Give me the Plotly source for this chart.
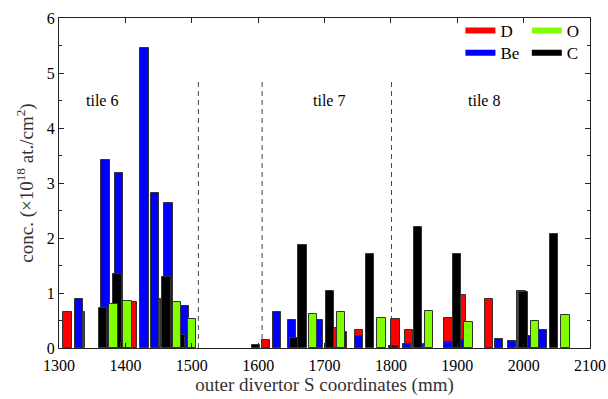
import plotly.graph_objects as go

# ---- data (S coordinate in mm, concentration in 1e18 at./cm^2) ----
d_s  = [1313, 1333, 1412, 1448, 1612, 1712, 1752, 1807, 1827, 1887, 1907, 1948, 1997]
d_v  = [0.66, 0.65, 0.83, 0.90, 0.15, 0.36, 0.33, 0.53, 0.33, 0.545, 0.96, 0.90, 1.04]

be_s = [1330, 1370, 1390, 1429, 1445, 1465, 1489, 1628, 1651, 1692, 1728, 1752,
        1824, 1844, 1887, 1905, 1963, 1983, 2005, 2029]
be_v = [0.90, 3.42, 3.19, 5.45, 2.82, 2.64, 0.77, 0.65, 0.51, 0.51, 0.30, 0.22,
        0.07, 0.08, 0.11, 0.15, 0.17, 0.13, 0.22, 0.33]

c_s  = [1366, 1388, 1400, 1462, 1483, 1597, 1655, 1667, 1708, 1769, 1804, 1841, 1900, 2000, 2046]
c_v  = [0.72, 1.34, 0.10, 1.30, 0.24, 0.06, 0.18, 1.88, 1.03, 1.71, 0.04, 2.20, 1.71, 1.02, 2.07]

o_s  = [1382, 1403, 1478, 1500, 1683, 1725, 1786, 1857, 1917, 2017, 2063]
o_v  = [0.80, 0.86, 0.84, 0.53, 0.62, 0.65, 0.545, 0.665, 0.47, 0.50, 0.605]

tile_bounds = [1510, 1606, 1801]
tile_bound_top = 4.88
tile_names = ["tile 6", "tile 7", "tile 8"]
tile_label_s = [1365, 1707, 1940]
tile_label_y = 4.5

FONT = "Liberation Serif"
BAR_W = 12.5
series = [
    ("D", d_s, d_v, "#ff0000"),
    ("Be", be_s, be_v, "#0000ff"),
    ("C", c_s, c_v, "#000000"),
    ("O", o_s, o_v, "#7fff00"),
]

fig = go.Figure()
for name, xs, ys, col in series:
    fig.add_trace(go.Bar(
        x=xs, y=ys, width=BAR_W, name=name, showlegend=False,
        marker=dict(color=col, line=dict(color="#333333", width=1)),
    ))

# legend entries (line samples) laid out as 2x2 grid
legend_items = [("D", "#ff0000", "legend", 0.756, 1.015),
                ("Be", "#0000ff", "legend2", 0.756, 0.948),
                ("O", "#7fff00", "legend3", 0.881, 1.015),
                ("C", "#000000", "legend4", 0.881, 0.948)]
legend_layout = {}
for name, col, lg, lx, ly in legend_items:
    fig.add_trace(go.Scatter(x=[None], y=[None], mode="lines", name=name,
                             line=dict(color=col, width=6), legend=lg))
    legend_layout[lg] = dict(x=lx, y=ly, xanchor="left", yanchor="top",
                             bgcolor="rgba(0,0,0,0)", font=dict(family=FONT, size=17),
                             itemwidth=30)

for s in tile_bounds:
    fig.add_shape(type="line", x0=s, x1=s, y0=0, y1=tile_bound_top, xref="x", yref="y",
                  line=dict(color="#444444", width=1, dash="5px,4px"))

for name, s in zip(tile_names, tile_label_s):
    fig.add_annotation(x=s, y=tile_label_y, text=name, showarrow=False,
                       font=dict(family=FONT, size=16, color="black"))

axis_common = dict(showline=True, linecolor="#222222", linewidth=1.2, mirror="ticks",
                   ticks="inside", ticklen=5, tickcolor="#222222", showgrid=False,
                   zeroline=False, automargin=False,
                   tickfont=dict(family=FONT, size=16, color="black"))

fig.update_layout(
    width=608, height=399,
    margin=dict(l=58.5, r=17.5, t=18.3, b=50.7),
    paper_bgcolor="white", plot_bgcolor="white",
    barmode="overlay", bargap=0,
    font=dict(family=FONT, size=16, color="black"),
    xaxis=dict(range=[1300, 2100], dtick=100, tick0=1300, ticklabelstandoff=3,
               title=dict(text="outer divertor S coordinates (mm)", standoff=4,
                          font=dict(family=FONT, size=19, color="#333333")),
               **axis_common),
    yaxis=dict(range=[0, 6], dtick=1, tick0=0,
               minor=dict(dtick=0.5, ticks="inside", ticklen=3, tickcolor="#222222"),
               title=dict(text="conc. (×10<sup>18</sup> at./cm<sup>2</sup>)", standoff=8,
                          font=dict(family=FONT, size=19, color="#333333")),
               **axis_common),
    **legend_layout,
)

fig.write_html("out.html")
